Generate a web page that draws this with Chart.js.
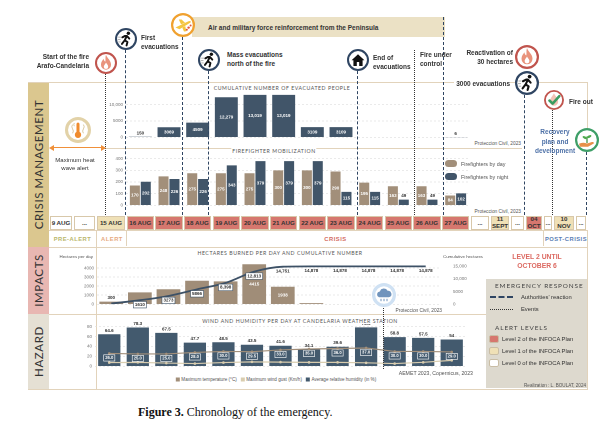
<!DOCTYPE html>
<html>
<head>
<meta charset="utf-8">
<script src="https://cdn.jsdelivr.net/npm/chart.js@4.4.1/dist/chart.umd.min.js"></script>
<style>
html, body { margin: 0; padding: 0; background: #fff; }
#page { position: relative; width: 616px; height: 429px; overflow: hidden; font-family: "Liberation Sans", Arial, sans-serif; color: #333; }
.a { position: absolute; white-space: nowrap; }
canvas { position: absolute; }
.ttl { font-family: Lato, "Open Sans", sans-serif; font-size: 5.2px; letter-spacing: 0.55px; color: #555; background: #fff; padding: 0 1px; }
.src { font-size: 4.8px; color: #555; }
.ev { font-size: 6.5px; font-weight: bold; color: #333; line-height: 9px; }
.cell { position: absolute; box-sizing: border-box; border: 1px solid #d8c8aa; display: flex; align-items: center; justify-content: center; text-align: center; font-weight: bold; font-size: 6.2px; line-height: 6.5px; color: #333; }
.band { position: absolute; display: flex; align-items: center; justify-content: center; }
.band span { transform: rotate(-90deg); font-family: Lato, "Open Sans", sans-serif; font-size: 11.5px; letter-spacing: 0.6px; color: #333; white-space: nowrap; }
.lg { font-size: 5.8px; color: #333; }
</style>
</head>
<body>
<div id="page"></div>
<script>
// ---- data ----
const crisisDays = ['16 AUG', '17 AUG', '18 AUG', '19 AUG', '20 AUG', '21 AUG', '22 AUG', '23 AUG', '24 AUG', '25 AUG', '26 AUG', '27 AUG'];
const hectareDays = ['15 AUG', '16 AUG', '17 AUG', '18 AUG', '19 AUG', '20 AUG', '21 AUG', '22 AUG', '23 AUG', '24 AUG', '25 AUG', '26 AUG'];
const weatherDays = ['15 AUG', '16 AUG', '17 AUG', '18 AUG', '19 AUG', '20 AUG', '21 AUG', '22 AUG', '23 AUG', '24 AUG', '25 AUG', '26 AUG', '27 AUG'];

const evacuated = [150, 3069, 4509, 12279, 13019, 13019, 3109, 3109, null, null, null, 6];
const firefightersDay = [170, 248, 275, 275, 275, 300, 300, 290, 195, 163, 163, 84];
const firefightersNight = [202, 226, 226, 343, 379, 379, 379, 115, 115, 49, 49, 102];

const hectaresPerDay = [300, 1310, 1663, 2593, 2532, 4415, 1938, 127, null, null, null, null];
const hectaresCumulative = [300, 1610, 3273, 5866, 8398, 12813, 14751, 14878, 14878, 14878, 14878, 14878];

const humidity = [64.6, 78.3, 67.5, 47.7, 48.5, 43.5, 41.6, 34.1, 39.6, 78.5, 58.8, 57.5, 54];
const maxTemp = [26, 25, 25, 28, 30, 29.5, 33, 35, 36, 37, 30, 30, 29];
const maxGust = [7.5, 8, 6.5, 5.5, 7.5, 9, 8.5, 8, 8, 7, 5.5, 8, 12];

const timelineLabels = ['9 AUG', '...', '15 AUG'].concat(crisisDays, ['...', '11<br>SEPT', '...', '04<br>OCT', '...', '10<br>NOV', '...']);
const timelineLevels = [0, 0, 1, 2, 2, 2, 2, 2, 2, 2, 2, 2, 2, 2, 2, 0, 1, 0, 2, 0, 1, 0];
const phases = ['PRE-ALERT', 'ALERT', 'CRISIS', 'POST-CRISIS'];

// ---- helpers ----
const page = document.getElementById('page');
const NAVY = '#2f4562', TAN = '#a28f7a', SLATE = '#415569', LINE = '#e2d3bb';
const levelColor = ['#ffffff', '#efe0b6', '#d6776e'];

function add(html, css, cls) {
	const d = document.createElement('div');
	d.className = cls || 'a';
	d.style.cssText = css;
	d.innerHTML = html || '';
	page.appendChild(d);
	return d;
}
function text(html, x, y, cls, align, extra) {
	let css = `top:${y}px;transform:translateY(-50%);` + (extra || '');
	if (align === 'right') css += `right:${616 - x}px;text-align:right;`;
	else if (align === 'center') css += `left:${x}px;transform:translate(-50%,-50%);text-align:center;`;
	else css += `left:${x}px;`;
	return add(html, css, 'a ' + (cls || ''));
}
function rect(x, y, w, h, css) { return add('', `left:${x}px;top:${y}px;width:${w}px;height:${h}px;` + css); }
function vline(x, y1, y2, style) { return rect(x - 0.75, y1, 0, y2 - y1, `border-left:1.5px ${style};`); }

const inner = {
	fire: '<path d="M12 3c1 3.5 5.5 6 5.5 10.8a5.5 5.5 0 0 1-11 0c0-3 1.8-4.6 2.8-6.5.3 1.6 1 2.6 2 3.2C11.8 8 11 5.8 12 3z" fill="#e9937c"/><path d="M12 11.5c.8 1.8 2.4 2.6 2.4 4.6a2.4 2.4 0 0 1-4.8 0c0-1.7 1.5-2.7 2.4-4.6z" fill="#fff"/>',
	run: '<g stroke="#111" stroke-width="2.1" stroke-linecap="round" stroke-linejoin="round" fill="none"><path d="M13 8.6L10.6 13.4L7.6 17.4M10.6 13.4L13.6 15.4L12.6 19M8 10.2L11 8.6L13 8.6L15.6 11.6"/></g><circle cx="14.6" cy="5.6" r="1.9" fill="#111"/><path d="M3.5 10h3M3 12.6h3M3.6 15.2h2.6" stroke="#999" stroke-width="0.8"/>',
	plane: '<path d="M4.5 14.5L17.5 8.2Q20.5 7.2 19.6 9.4L8.5 16.2Z" fill="#f4c542"/><path d="M10 11.2L7.8 6.5L10.6 6.4L14.2 10zM11.2 14.4L13 18.6L15.4 18.2L14.2 13z" fill="#f4c542"/><circle cx="17.6" cy="14.6" r="1.2" fill="#e4553a"/><circle cx="19.6" cy="12.4" r="1" fill="#e4553a"/><circle cx="15.8" cy="16.8" r="1" fill="#e4553a"/>',
	house: '<path d="M5 12.2L12 5.6L19 12.2L17 12.2L17 18.6L7 18.6L7 12.2Z" fill="#111"/><rect x="10.7" y="14.2" width="2.6" height="4.4" fill="#fff"/>',
	check: '<path d="M12 4c1 3 5 5.5 5 10a5 5 0 0 1-10 0c0-3 2-5 5-10z" fill="#f2c2b6"/><path d="M6.5 12.6L10.4 16.4L18.4 7.4" stroke="#3b9c62" stroke-width="3" fill="none" stroke-linecap="round" stroke-linejoin="round"/>',
	grow: '<path d="M4 15.8Q8 13.8 12 15.4L17 14Q19.6 13.6 18.8 15.6L13 18.8L5 18.8Z" fill="#e8904a"/><path d="M12 15V8.6" stroke="#3a8a3a" stroke-width="1.2"/><ellipse cx="9.8" cy="9.6" rx="2.4" ry="1.2" transform="rotate(25 9.8 9.6)" fill="#4caa4c"/><ellipse cx="14.2" cy="8.6" rx="2.4" ry="1.2" transform="rotate(-25 14.2 8.6)" fill="#4caa4c"/>',
	heat: '<path d="M7 7q-1.5 2 0 4t0 4M17 7q1.5 2 0 4t0 4M8.6 5.5q-1 1.5 0 3" stroke="#d9c79e" stroke-width="0.9" fill="none"/><rect x="10.6" y="5" width="2.8" height="10" rx="1.4" fill="#f08c2e"/><circle cx="12" cy="16.4" r="2.9" fill="#f08c2e"/>',
	rain: '<path d="M7 14.2a3 3 0 0 1 .8-5.8a4.2 4.2 0 0 1 7.8-.6a3.1 3.1 0 0 1 1.2 6.4Z" fill="#7094bd"/><path d="M9 16.2v1.6M12 16.2v1.6M15 16.2v1.6" stroke="#7094bd" stroke-width="1" stroke-linecap="round"/>'
};
function icon(cx, cy, r, ring, kind, ringW, bg) {
	const d = add(`<svg width="${2 * r}" height="${2 * r}" viewBox="0 0 24 24"><circle cx="12" cy="12" r="${12 - (ringW || 2.2) / 2}" fill="${bg || '#fff'}" stroke="${ring}" stroke-width="${ringW || 2.2}"/>${inner[kind]}</svg>`,
		`left:${cx - r}px;top:${cy - r}px;width:${2 * r}px;height:${2 * r}px;line-height:0;`);
	return d;
}

// ---- frame: bands, boxes, timeline ----
add('<span>CRISIS MANAGEMENT</span>', 'left:28px;top:82px;width:21px;height:165px;background:#dbc78f;', 'band');
add('<span>IMPACTS</span>', 'left:28px;top:247px;width:21px;height:67px;background:#e8b7b2;', 'band');
add('<span>HAZARD</span>', 'left:28px;top:314px;width:21px;height:75px;background:#e5e0d4;', 'band');

rect(28, 81.5, 559, 0, `border-top:1.5px solid ${LINE};`);
rect(586.5, 82, 0, 46, `border-left:1.5px solid ${LINE};`);
rect(28, 389, 559, 0, `border-top:1.5px solid ${LINE};`);
rect(586.5, 230, 0, 160, `border-left:1px solid ${LINE};`);
rect(49, 246.5, 538, 0, `border-top:1.5px solid ${LINE};`);
rect(49, 313.5, 437, 0, `border-top:1.5px solid ${LINE};`);
rect(96, 230, 0, 160, `border-left:1px solid ${LINE};`);
rect(106, 148, 416, 0, `border-top:1px solid ${LINE};`);

// timeline cells
const cellWidths = [24, 23, 30].concat(crisisDays.map(() => 344 / 12), [20, 20, 15, 18, 10, 22, 12]);
let cx0 = 49;
timelineLabels.forEach((lab, i) => {
	add(lab, `left:${cx0 + 0.6}px;top:215.5px;width:${cellWidths[i] - 1.2}px;height:14.5px;background:${levelColor[timelineLevels[i]]};`, 'cell');
	cx0 += cellWidths[i];
});
// phase row
const phaseSpans = [[49, 96], [96, 126], [126, 543], [543, 587]];
const phaseColors = ['#b9b66c', '#e6a981', '#d36a61', '#5a7db4'];
phases.forEach((p, i) => {
	const [a, b] = phaseSpans[i];
	add(p, `left:${a}px;top:231px;width:${b - a}px;height:15px;display:flex;align-items:center;justify-content:center;font-weight:bold;font-size:5.8px;letter-spacing:0.5px;color:${phaseColors[i]};` + (i ? `border-left:1px solid ${LINE};` : ''), 'a');
});
rect(49, 230, 538, 0, `border-top:1px solid ${LINE};`);

// banner
rect(192, 17, 253, 20, 'background:#ebe1c5;');
text('Air and military force reinforcement from the Peninsula', 208, 27, 'ev');

// legend box
rect(486, 279, 101, 109, 'background:#ddd9ce;');

// ---- charts ----
Chart.defaults.font.family = '"Liberation Sans", Arial, sans-serif';
Chart.defaults.font.size = 4.5;
Chart.defaults.color = '#777';

const valueLabels = {
	id: 'valueLabels',
	afterDatasetsDraw(chart) {
		const ctx = chart.ctx;
		const taken = [];
		chart.data.datasets.forEach((ds, i) => {
			const o = ds.lbl;
			if (!o) return;
			const size = o.size || 4.5;
			ctx.save();
			ctx.font = (o.bold === false ? '' : 'bold ') + size + 'px "Liberation Sans", Arial, sans-serif';
			ctx.textAlign = 'center';
			ctx.textBaseline = 'middle';
			chart.getDatasetMeta(i).data.forEach((el, j) => {
				const v = ds.data[j];
				if (v == null || v < (o.min || 0) || (o.skipFirst && j === 0)) return;
				const t = o.fmt ? o.fmt(v) : String(v);
				const w = ctx.measureText(t).width;
				let y = el.y + (o.dy || 0), color = o.color;
				if (o.pos === 'mid') {
					if (el.base - el.y < o.minH) { y = el.y - size / 2 - 1.5; color = o.outColor; }
					else y = (el.y + el.base) / 2;
				} else if (o.pos === 'above') {
					y = el.y - size / 2 - 1.5;
				}
				const r = { l: el.x - w / 2 - 1.5, r: el.x + w / 2 + 1.5, t: y - size / 2 - 1, b: y + size / 2 + 1 };
				if (o.avoid && taken.some((q) => r.l < q.r && r.r > q.l && r.t < q.b && r.b > q.t)) return;
				taken.push(r);
				if (o.box && (!o.boxUntil || v < o.boxUntil)) {
					ctx.beginPath();
					ctx.rect(r.l, r.t, r.r - r.l, r.b - r.t);
					if (o.box.fill) { ctx.fillStyle = o.box.fill; ctx.fill(); }
					ctx.lineWidth = 0.6;
					ctx.strokeStyle = o.box.stroke;
					ctx.stroke();
				}
				ctx.fillStyle = color;
				ctx.fillText(t, el.x, y);
			});
			ctx.restore();
		});
	}
};

function canvasAt(x, y, w, h) {
	const c = document.createElement('canvas');
	c.width = w;
	c.height = h;
	c.style.left = x + 'px';
	c.style.top = y + 'px';
	page.appendChild(c);
	return c;
}
const thousands = (v) => v >= 10000 ? v.toLocaleString('en-US') : String(v);
function yAxis(width, max, ticks, extra) {
	return Object.assign({
		min: 0,
		max,
		border: { display: false, dash: [2, 2] },
		grid: { color: '#dddddd', lineWidth: 0.6, drawTicks: false },
		ticks: { padding: 3, color: '#777', font: { size: 4.5 }, callback: thousands },
		afterBuildTicks: (s) => { s.ticks = ticks.map((value) => ({ value })); },
		afterFit: (s) => { s.width = width; }
	}, extra || {});
}
function options(scales) {
	return {
		responsive: false,
		devicePixelRatio: 2,
		animation: false,
		layout: { padding: { top: 4, bottom: 4, left: 0, right: 0 } },
		plugins: { legend: { display: false }, tooltip: { enabled: false } },
		scales: Object.assign({ x: { display: false, offset: true } }, scales)
	};
}

// cumulative evacuated people
new Chart(canvasAt(100, 86, 370, 57), {
	type: 'bar',
	data: {
		labels: crisisDays,
		datasets: [{
			data: evacuated, backgroundColor: SLATE, barPercentage: 0.8, categoryPercentage: 1,
			lbl: { pos: 'mid', color: '#fff', outColor: '#333', minH: 7, fmt: thousands }
		}]
	},
	options: options({ y: yAxis(26, 14000, [0, 5000, 10000]) }),
	plugins: [valueLabels]
});

// firefighter mobilization
new Chart(canvasAt(100, 153, 370, 58), {
	type: 'bar',
	data: {
		labels: crisisDays,
		datasets: [
			{ label: 'Firefighters by day', data: firefightersDay, backgroundColor: TAN, barPercentage: 0.92, categoryPercentage: 0.76, lbl: { pos: 'mid', color: '#fff', outColor: '#333', minH: 8 } },
			{ label: 'Firefighters by night', data: firefightersNight, backgroundColor: SLATE, barPercentage: 0.92, categoryPercentage: 0.76, lbl: { pos: 'mid', color: '#fff', outColor: '#333', minH: 8 } }
		]
	},
	options: options({ y: yAxis(26, 400, [0, 100, 200, 300, 400]) }),
	plugins: [valueLabels]
});

// hectares burned
new Chart(canvasAt(55, 254, 417, 58), {
	type: 'bar',
	data: {
		labels: hectareDays,
		datasets: [
			{
				type: 'line', data: hectaresCumulative, yAxisID: 'yR', borderColor: '#3d5166', borderWidth: 1.8, pointRadius: 0,
				cubicInterpolationMode: 'monotone', order: 0,
				lbl: { pos: 'point', dy: 4.5, color: '#333', skipFirst: true, box: { fill: '#fff', stroke: '#3d5166' }, boxUntil: 14000, fmt: (v) => v >= 8000 ? v.toLocaleString('en-US') : String(v) }
			},
			{
				type: 'bar', data: hectaresPerDay, yAxisID: 'y', backgroundColor: '#a08d78', barPercentage: 0.83, categoryPercentage: 1, order: 1,
				lbl: { pos: 'mid', color: '#fff', outColor: '#333', minH: 8, min: 200, avoid: true }
			}
		]
	},
	options: options({
		y: yAxis(42, 4700, [0, 1000, 2000, 3000, 4000]),
		yR: yAxis(32, 16700, [0, 5000, 10000, 15000], { position: 'right', grid: { display: false }, ticks: { padding: 5, color: '#777', font: { size: 4.5 }, callback: thousands } })
	}),
	plugins: [valueLabels]
});

// wind and humidity
new Chart(canvasAt(60, 319, 410, 53), {
	type: 'bar',
	data: {
		labels: weatherDays,
		datasets: [
			{
				type: 'line', label: 'Maximum temperature (°C)', data: maxTemp, borderColor: TAN, pointBackgroundColor: TAN, pointBorderWidth: 0, pointRadius: 1.3, borderWidth: 1.2, order: 0,
				lbl: { pos: 'point', dy: 4.5, color: '#fff', size: 4.2, box: { fill: null, stroke: '#fff' }, fmt: (v) => v.toFixed(1) }
			},
			{ type: 'line', label: 'Maximum wind gust (Km/h)', data: maxGust, borderColor: '#d9cdaf', pointBackgroundColor: '#d9cdaf', pointBorderWidth: 0, pointRadius: 1.3, borderWidth: 1.2, order: 0 },
			{
				type: 'bar', label: 'Average relative humidity (in %)', data: humidity, backgroundColor: '#435a6e', barPercentage: 0.78, categoryPercentage: 1, order: 1,
				lbl: { pos: 'above', color: '#333' }
			}
		]
	},
	options: options({ y: yAxis(35, 84, [0, 20, 40, 60, 80]) }),
	plugins: [valueLabels]
});

// ---- chart titles, sources, legends ----
text('CUMULATIVE NUMBER OF EVACUATED PEOPLE', 282, 88, 'ttl', 'center');
text('FIREFIGHTER MOBILIZATION', 274, 151, 'ttl', 'center');
text('HECTARES BURNED PER DAY AND CUMULATIVE NUMBER', 280, 253, 'ttl', 'center');
text('WIND AND HUMIDITY PER DAY AT CANDELARIA WEATHER STATION', 300, 321, 'ttl', 'center');
text('Proteccion Civil, 2023', 521, 143, 'src', 'right');
text('Proteccion Civil, 2023', 521, 211, 'src', 'right');
text('Proteccion Civil, 2023', 442, 309.5, 'src', 'right');
text('AEMET 2023, Copernicus, 2023', 473, 373, 'src', 'right', 'font-size:5.2px;');
text('Hectares per day', 93, 256, 'src', 'right', 'font-size:4.4px;');
text('Cumulative hectares', 443, 256, 'src', '', 'font-size:4.4px;');

rect(445, 160, 12, 7, `background:${TAN};border-radius:3.5px;`);
rect(445, 173, 12, 7, `background:${SLATE};border-radius:3.5px;`);
text('Firefighters by day', 461, 163.5, 'src', '', 'font-size:5.4px;');
text('Firefighters by night', 461, 176.5, 'src', '', 'font-size:5.4px;');

const hzLegend = [['Maximum temperature (°C)', TAN], ['Maximum wind gust (Km/h)', '#d9cdaf'], ['Average relative humidity (in %)', '#435a6e']];
text(hzLegend.map(([l, c]) => `<span style="display:inline-block;width:4px;height:4px;background:${c};margin:0 1.5px 0 4px;vertical-align:-0.5px"></span>${l}`).join(''), 274, 379, 'src', 'center', 'font-size:4.6px;');

// ---- event lines ----
const DASH = `dashed ${NAVY}`, DOT = 'dotted #333';
vline(106, 74, 215, DOT);
vline(126, 50, 215, DASH);
vline(183, 37, 215, DASH);
vline(209, 71, 215, DASH);
vline(358, 71, 215, DASH);
vline(415, 50, 215, DOT);
vline(444, 17, 215, DASH);
vline(525, 95, 215, DASH);
vline(553, 110, 215, DOT);
vline(587, 152, 215, DASH);
vline(384, 306, 369, DOT);

// recovery connector
rect(537, 81.5, 50, 0, `border-top:1.5px solid ${LINE};`);

// ---- icons ----
icon(106, 63, 11, '#c0544d', 'fire');
icon(126, 39, 11, NAVY, 'run');
icon(183, 25, 12, '#f0a12f', 'plane');
icon(209, 60, 11, NAVY, 'run');
icon(358, 60, 11, NAVY, 'house');
icon(527, 57, 12, '#c0544d', 'fire');
icon(527, 83, 12, NAVY, 'run');
icon(554, 100, 10, '#c0544d', 'check');
icon(587, 140, 12, '#3f9f68', 'grow');
icon(78, 130, 13, '#e2d2a8', 'heat', 2.8);
icon(384, 295, 12, '#cfe1f3', 'rain', 3.2);

// ---- event annotations ----
text('Start of the fire<br>Arafo-Candelaria', 89, 61, 'ev', 'right');
text('First<br>evacuations', 141, 42, 'ev');
text('Mass evacuations<br>north of the fire', 227, 59, 'ev');
text('End of<br>evacuations', 373, 62, 'ev');
text('Fire under<br>control', 420, 59, 'ev');
text('Reactivation of<br>30 hectares', 513, 57, 'ev', 'right');
text('3000 evacuations', 510, 82.5, 'ev', 'right', 'background:#fff;padding-left:2px;');
text('Fire out', 569, 101, 'ev');
text('Recovery<br>plan and<br>development', 555, 141, 'ev', 'center', 'color:#4f72a8;line-height:9.5px;');

// heat wave alert
rect(53, 147.2, 49, 0, 'border-top:1.6px solid #f0903a;');
rect(49, 145, 0, 0, 'border-top:3px solid transparent;border-bottom:3px solid transparent;border-right:5px solid #f0903a;');
rect(101, 145, 0, 0, 'border-top:3px solid transparent;border-bottom:3px solid transparent;border-left:5px solid #f0903a;');
text('Maximum heat<br>wave alert', 75, 163.5, 'lg', 'center', 'font-size:6px;line-height:8.5px;');

// level note + legend
text('LEVEL 2 UNTIL<br>OCTOBER 6', 537, 261, 'ev', 'center', 'color:#dc6a62;font-size:6.8px;line-height:9px;');
text('EMERGENCY RESPONSE', 494, 285, 'ttl', '', 'font-size:6.4px;letter-spacing:0.9px;background:none;color:#444;');
rect(490, 296, 23, 0, `border-top:2px dashed ${NAVY};`);
text('Authorities\' reaction', 521, 297, 'lg');
rect(490, 308.5, 23, 0, 'border-top:1.5px dotted #333;');
text('Events', 521, 309, 'lg');
text('ALERT LEVELS', 494, 327, 'ttl', '', 'font-size:6.4px;letter-spacing:0.9px;background:none;color:#444;');
const alertNames = ['Level 2 of the INFOCA Plan', 'Level 1 of the INFOCA Plan', 'Level 0 of the INFOCA Plan'];
alertNames.forEach((n, i) => {
	rect(489, 335 + i * 12, 10, 8, `background:${levelColor[2 - i]};border:0.6px solid #c9bda5;border-radius:2px;box-sizing:border-box;`);
	text(n, 502, 339 + i * 12, 'lg');
});
text('Realization : L. BOULAT, 2024', 586, 385, 'src', 'right', 'font-size:4.6px;');

// caption
text('<b>Figure 3.</b> Chronology of the emergency.', 138, 412, '', '', 'font-family:"Liberation Serif","DejaVu Serif",serif;font-size:12px;color:#111;');
</script>
</body>
</html>
